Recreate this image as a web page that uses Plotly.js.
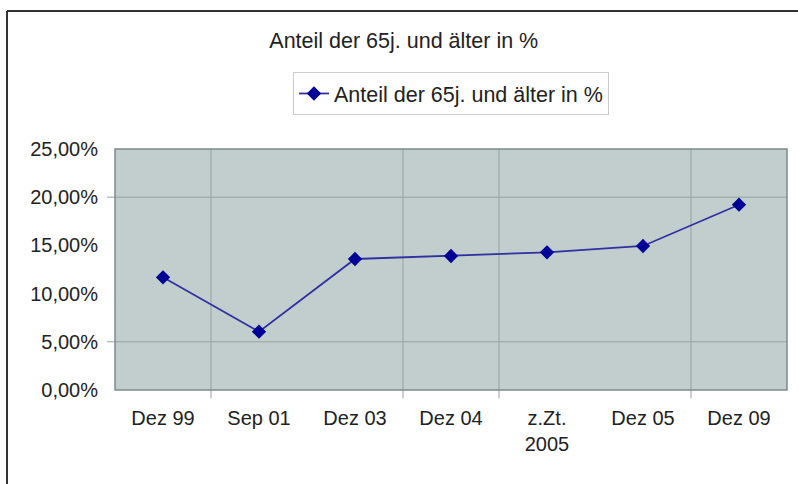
<!DOCTYPE html>
<html>
<head>
<meta charset="utf-8">
<script src="https://cdn.plot.ly/plotly-3.0.1.min.js"></script>
<style>html,body{margin:0;padding:0;background:#fff;}#chart{width:798px;height:484px;}</style>
</head>
<body>
<div id="chart"></div>
<script>
const categories = ["Dez 99", "Sep 01", "Dez 03", "Dez 04", "z.Zt.<br>2005", "Dez 05", "Dez 09"];
const shareValues = [0.1169, 0.0605, 0.1359, 0.1390, 0.1428, 0.1494, 0.1922];
const seriesName = "Anteil der 65j. und älter in %";
const chartTitle = "Anteil der 65j. und älter in %";
const yTickVals = [0, 0.05, 0.10, 0.15, 0.20, 0.25];
const hGridVals = [0.05, 0.20];
const vGridVals = [0.5, 2.5, 3.5, 5.5];

const trace = {
  x: categories.map((c, i) => i),
  y: shareValues,
  type: 'scatter',
  mode: 'lines+markers',
  name: seriesName,
  line: {color: '#3030a0', width: 1.8},
  marker: {symbol: 'diamond', size: 11, color: '#000096', line: {width: 0}}
};

const shapes = [];
hGridVals.forEach(v => shapes.push({type: 'line', xref: 'paper', yref: 'y', x0: -0.012, x1: 1, y0: v, y1: v, line: {color: '#96a2a2', width: 1}, layer: 'below'}));
vGridVals.forEach(v => shapes.push({type: 'line', xref: 'x', yref: 'paper', x0: v, x1: v, y0: -0.035, y1: 1, line: {color: '#96a2a2', width: 1}, layer: 'below'}));
shapes.push({type: 'rect', xref: 'paper', yref: 'paper', x0: 0, x1: 1, y0: 0, y1: 1, line: {color: '#7f8a8a', width: 1.5}});
shapes.push({type: 'line', xref: 'paper', yref: 'paper', x0: -108/672, x1: 2, y0: (390-11)/241, y1: (390-11)/241, line: {color: '#333', width: 2}});
shapes.push({type: 'line', xref: 'paper', yref: 'paper', x0: -108/672, x1: -108/672, y0: (390-11)/241, y1: -2, line: {color: '#333', width: 2}});

const layout = {
  width: 798, height: 484,
  margin: {l: 115, r: 11, t: 149, b: 94, pad: 0},
  paper_bgcolor: '#ffffff',
  plot_bgcolor: '#c2cece',
  separators: ',.',
  font: {family: 'Liberation Sans, Arial, sans-serif', size: 20, color: '#222'},
  title: {text: chartTitle, x: 0.506, xanchor: 'center', y: 1 - 40/484, yanchor: 'middle', font: {size: 21.5, color: '#222'}},
  showlegend: true,
  legend: {x: 0.5, xanchor: 'center', y: (390-72)/241, yanchor: 'top', bgcolor: '#fff', bordercolor: '#cccccc', borderwidth: 1, font: {size: 21.5}},
  xaxis: {
    type: 'linear', range: [-0.5, 6.5],
    tickvals: categories.map((c, i) => i), ticktext: categories,
    showgrid: false, zeroline: false, showline: false, ticks: '',
    ticklabelstandoff: 14, fixedrange: true
  },
  yaxis: {
    range: [0, 0.25], tickvals: yTickVals, tickformat: '.2%',
    showgrid: false, zeroline: false, showline: false, ticks: '',
    ticklabelstandoff: 16, fixedrange: true
  },
  shapes: shapes
};

Plotly.newPlot('chart', [trace], layout, {displayModeBar: false, staticPlot: true});
</script>
</body>
</html>
